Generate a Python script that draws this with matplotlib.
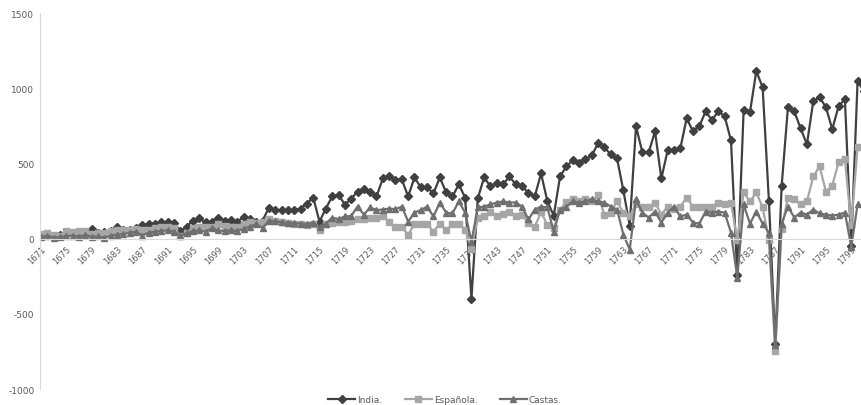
import numpy as np
import matplotlib
matplotlib.use("Agg")
import matplotlib.pyplot as plt

# Data (one value per year, 1671-1801)
years = list(range(1671, 1802))

india = [20, 30, 15, 25, 30, 40, 35, 40, 65, 40,
         45, 50, 75, 55, 60, 70, 90, 100, 100, 110,
         110, 105, 50, 80, 120, 135, 110, 110, 140, 120,
         125, 110, 145, 130, 110, 120, 205, 187, 187, 187,
         190, 200, 233, 273, 113, 200, 280, 293, 225, 265,
         313, 333, 313, 280, 400, 413, 387, 393, 280, 407,
         340, 340, 300, 407, 307, 280, 360, 273, -400, 267,
         407, 347, 373, 360, 413, 360, 353, 300, 280, 433,
         247, 153, 413, 480, 520, 500, 527, 553, 633, 607,
         560, 533, 320, 87, 747, 573, 573, 713, 400, 587,
         587, 600, 800, 713, 747, 847, 787, 847, 813, 653,
         -240, 853, 840, 1113, 1007, 247, -700, 347, 873, 847,
         733, 627, 913, 940, 873, 727, 880, 927, -50, 1047,
         980]

espanola = [30, 40, 25, 15, 50, 45, 50, 50, 30, 40,
            35, 50, 55, 55, 60, 65, 55, 60, 70, 75,
            80, 70, 15, 40, 70, 80, 80, 80, 95, 85,
            80, 80, 100, 110, 105, 110, 130, 115, 110, 105,
            100, 95, 90, 95, 55, 95, 105, 110, 110, 120,
            130, 130, 135, 140, 150, 110, 75, 75, 25, 100,
            95, 100, 45, 100, 60, 95, 100, 60, -70, 140,
            150, 175, 150, 165, 175, 150, 155, 105, 80, 175,
            90, 70, 190, 245, 265, 250, 260, 247, 287, 160,
            173, 247, 173, 147, 233, 213, 207, 240, 160, 213,
            200, 213, 273, 213, 207, 207, 213, 240, 227, 240,
            -10, 307, 247, 307, 207, -10, -750, 65, 273, 260,
            227, 247, 413, 480, 313, 353, 507, 527, 90, 607,
            600]

castas = [10, 20, 5, 10, 15, 20, 10, 25, 10, 15,
          5, 20, 25, 30, 40, 45, 20, 40, 45, 50,
          55, 45, 20, 35, 50, 55, 45, 70, 55, 50,
          55, 50, 65, 80, 95, 70, 120, 115, 110, 105,
          105, 100, 95, 105, 75, 100, 140, 130, 147, 150,
          213, 160, 207, 190, 193, 200, 195, 213, 113, 173,
          190, 213, 147, 240, 173, 167, 247, 173, -20, 207,
          213, 227, 240, 247, 240, 240, 213, 127, 193, 213,
          207, 47, 193, 213, 247, 240, 247, 260, 247, 240,
          213, 193, 27, -73, 260, 173, 140, 180, 107, 173,
          213, 147, 160, 107, 100, 180, 173, 180, 173, 40,
          -260, 227, 100, 180, 100, 40, -710, 100, 213, 140,
          173, 160, 193, 167, 160, 153, 160, 173, -55, 227,
          210]

tick_years = list(range(1671, 1800, 4))
y_ticks = [-1000, -500, 0, 500, 1000, 1500]

fig = plt.figure(figsize=(8.62, 4.06), dpi=100)
ax = fig.add_axes([40 / 862, 1 - 390 / 406, 1 - 40 / 862, (390 - 14) / 406])

ax.plot(years, india, color='#404040', lw=1.6, marker='D', ms=3.8, label='India.')
ax.plot(years, espanola, color='#a6a6a6', lw=1.6, marker='s', ms=4.5, label='Española.')
ax.plot(years, castas, color='#6f6f6f', lw=1.6, marker='^', ms=4.5, label='Castas.')

ax.set_xlim(1670.84, 1800.7)
ax.set_ylim(-1000, 1500)

# axis styling similar to an office chart
for s in ['top', 'right']:
    ax.spines[s].set_visible(False)
ax.spines['bottom'].set_position(('data', 0))
ax.spines['bottom'].set_color('#d9d9d9')
ax.spines['left'].set_color('#d9d9d9')
ax.set_zorder(1)

ax.set_xticks(tick_years)
ax.set_xticklabels([str(y) for y in tick_years], rotation=45, ha='right',
                   rotation_mode='anchor', fontsize=6, color='#595959')
ax.set_yticks(y_ticks)
ax.set_yticklabels([str(v) for v in y_ticks], fontsize=6.5, color='#595959')
ax.tick_params(axis='both', length=0, pad=4)

fig.legend(loc='center', bbox_to_anchor=(445 / 862, 1 - 401 / 406), ncol=3,
           frameon=False, fontsize=6.5, handlelength=3, columnspacing=2.5,
           handletextpad=0.2, labelcolor='#595959')

fig.savefig('out.png', dpi=100)
